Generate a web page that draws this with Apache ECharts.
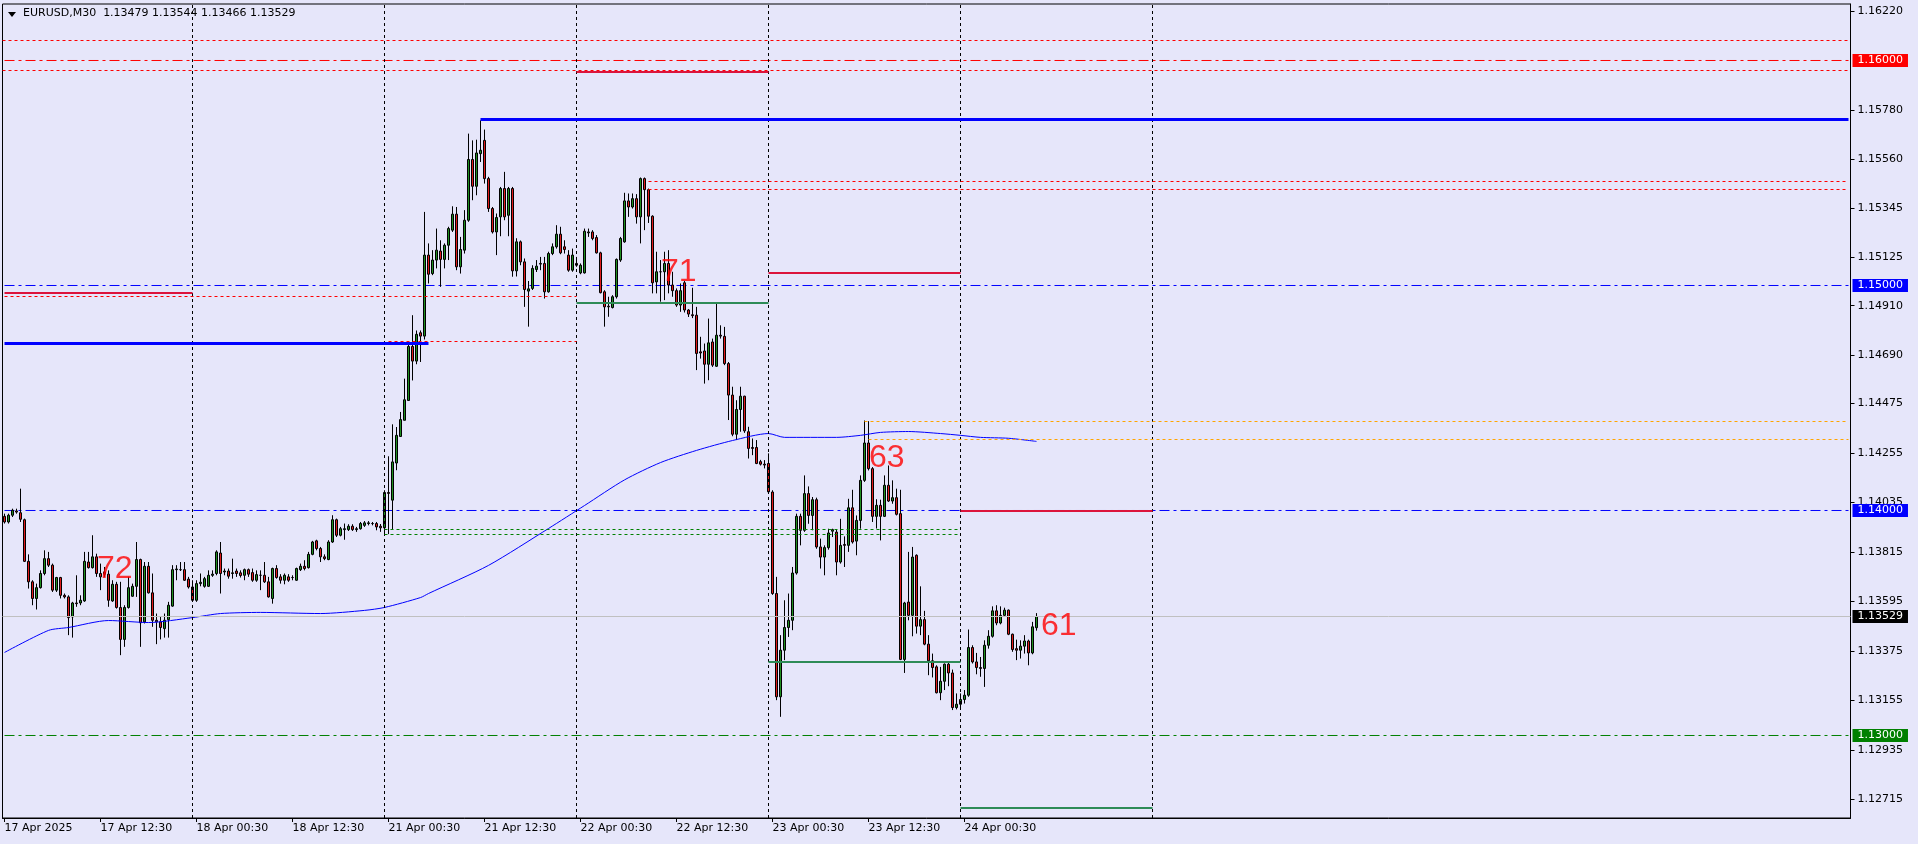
<!DOCTYPE html>
<html>
<head>
<meta charset="utf-8">
<script src="https://cdn.jsdelivr.net/npm/echarts@6/dist/echarts.min.js"></script>
<style>html,body{margin:0;padding:0;background:#E6E6FA;}#c{width:1918px;height:844px;}</style>
</head>
<body>
<div id="c"></div>
<script>
// ---------- data ----------
const tradingDays = ['17 Apr','18 Apr','21 Apr','22 Apr','23 Apr','24 Apr','25 Apr','28 Apr','29 Apr','30 Apr'];
const xTickIdx = [0,24,48,72,96,120,144,168,192,216,240];
const xTickLabels = ['17 Apr 2025','17 Apr 12:30','18 Apr 00:30','18 Apr 12:30','21 Apr 00:30','21 Apr 12:30','22 Apr 00:30','22 Apr 12:30','23 Apr 00:30','23 Apr 12:30','24 Apr 00:30'];
const yTickValues = [1.16220,1.15780,1.15560,1.15345,1.15125,1.14910,1.14690,1.14475,1.14255,1.14035,1.13815,1.13595,1.13375,1.13155,1.12935,1.12715];

const open = [
1.13974,1.13949,1.13979,1.13998,1.13990,1.13959,1.13774,1.13683,1.13609,1.13657,
1.13720,1.13786,1.13757,1.13646,1.13702,1.13623,1.13616,1.13527,1.13589,1.13589,
1.13598,1.13771,1.13746,1.13794,1.13720,1.13727,1.13717,1.13598,1.13672,1.13569,
1.13427,1.13569,1.13619,1.13663,1.13782,1.13505,1.13752,1.13634,1.13512,1.13505,
1.13475,1.13515,1.13575,1.13737,1.13737,1.13737,1.13695,
1.13660,1.13601,1.13675,1.13663,1.13663,1.13712,1.13720,1.13811,1.13727,1.13731,
1.13720,1.13731,1.13723,1.13712,1.13737,1.13724,1.13690,1.13712,1.13712,1.13683,
1.13609,1.13742,1.13705,1.13690,1.13705,1.13702,1.13690,1.13737,1.13752,1.13746,
1.13805,1.13865,1.13831,1.13794,1.13782,1.13860,1.13959,1.13890,1.13915,1.13915,
1.13930,1.13915,1.13919,1.13934,1.13942,1.13942,1.13942,1.13930,
1.13923,1.14080,1.14046,1.14211,1.14329,1.14401,1.14489,1.14729,1.14664,1.14790,
1.14775,1.15135,1.15053,1.15113,1.15153,1.15116,1.15179,1.15246,1.15317,1.15083,
1.15157,1.15290,1.15560,1.15441,1.15586,1.15645,1.15475,1.15342,1.15238,1.15305,
1.15431,1.15312,1.15431,1.15065,1.15194,1.15105,1.14975,1.14987,1.15071,1.15098,
1.15098,1.14972,1.15142,1.15172,1.15228,1.15172,1.15135,1.15068,
1.15098,1.15056,1.15056,1.15234,1.15238,1.15213,1.15145,1.14972,1.14908,1.14902,
1.14950,1.15113,1.15194,1.15376,1.15349,1.15386,1.15305,1.15475,1.15426,1.15308,
1.15016,1.15061,1.15061,1.15098,1.15002,1.14977,1.14913,1.15012,1.14891,1.14870,
1.14868,1.14705,1.14709,1.14650,1.14749,1.14641,1.14779,1.14774,1.14653,1.14513,
1.14339,1.14449,1.14508,1.14350,1.14280,1.14280,1.14217,1.14206,
1.14209,1.14082,1.13631,1.13172,1.13379,1.13480,1.13512,1.13722,1.13974,1.13912,
1.14075,1.13978,1.14048,1.13838,1.13793,1.13835,1.13908,1.13904,1.13771,1.13849,
1.13845,1.14012,1.13864,1.13956,1.14134,1.14300,1.14186,1.13974,1.14023,1.13974,
1.14112,1.14042,1.14057,1.13986,1.13338,1.13593,1.13534,1.13801,1.13486,1.13515,
1.13406,1.13332,1.13305,1.13190,1.13241,1.13317,1.13278,1.13124,
1.13139,1.13160,1.13179,1.13391,1.13327,1.13302,1.13298,1.13401,1.13441,1.13554,
1.13500,1.13534,1.13557,1.13450,1.13386,1.13379,1.13397,1.13420,1.13367,1.13479
];
const high = [
1.13986,1.13986,1.14008,1.14008,1.14097,1.13964,1.13805,1.13690,1.13675,1.13734,
1.13823,1.13816,1.13764,1.13705,1.13705,1.13631,1.13623,1.13594,1.13712,1.13623,
1.13816,1.13816,1.13890,1.13808,1.13764,1.13749,1.13734,1.13690,1.13683,1.13683,
1.13579,1.13705,1.13675,1.13860,1.13786,1.13771,1.13771,1.13720,1.13542,1.13527,
1.13542,1.13594,1.13757,1.13757,1.13771,1.13771,1.13705,
1.13690,1.13690,1.13720,1.13705,1.13734,1.13734,1.13823,1.13860,1.13742,1.13742,
1.13786,1.13742,1.13734,1.13742,1.13742,1.13742,1.13734,1.13734,1.13771,1.13705,
1.13746,1.13757,1.13717,1.13720,1.13717,1.13712,1.13746,1.13764,1.13779,1.13816,
1.13865,1.13870,1.13838,1.13805,1.13868,1.13979,1.13964,1.13927,1.13942,1.13939,
1.13939,1.13927,1.13949,1.13953,1.13953,1.13949,1.13949,1.13940,
1.14090,1.14241,1.14383,1.14371,1.14438,1.14586,1.14741,1.14868,1.14800,1.14800,
1.15327,1.15187,1.15157,1.15253,1.15201,1.15187,1.15261,1.15352,1.15349,1.15216,
1.15335,1.15675,1.15645,1.15648,1.15734,1.15693,1.15483,1.15349,1.15320,1.15438,
1.15505,1.15438,1.15438,1.15210,1.15200,1.15120,1.15020,1.15090,1.15113,1.15127,
1.15127,1.15150,1.15187,1.15268,1.15261,1.15201,1.15157,1.15164,
1.15127,1.15098,1.15253,1.15253,1.15246,1.15224,1.15150,1.14979,1.14950,1.14957,
1.15120,1.15216,1.15412,1.15409,1.15409,1.15406,1.15480,1.15480,1.15431,1.15312,
1.15150,1.15113,1.15150,1.15157,1.15061,1.14987,1.15009,1.15020,1.14895,1.14990,
1.14905,1.14772,1.14742,1.14853,1.14764,1.14920,1.14823,1.14816,1.14660,1.14550,
1.14490,1.14550,1.14510,1.14372,1.14320,1.14313,1.14225,1.14224,
1.14254,1.14090,1.13705,1.13446,1.13601,1.13631,1.13749,1.13986,1.13986,1.14156,
1.14107,1.14060,1.14057,1.13875,1.13845,1.13919,1.13919,1.13915,1.13963,1.13885,
1.14052,1.14092,1.13978,1.14156,1.14400,1.14397,1.14193,1.14050,1.14048,1.14156,
1.14200,1.14134,1.14097,1.14092,1.13594,1.13816,1.13838,1.13805,1.13663,1.13554,
1.13446,1.13364,1.13312,1.13305,1.13320,1.13327,1.13293,1.13187,
1.13187,1.13202,1.13471,1.13401,1.13367,1.13349,1.13423,1.13468,1.13574,1.13579,
1.13574,1.13568,1.13560,1.13453,1.13426,1.13423,1.13446,1.13426,1.13505,1.13544
];
const low = [
1.13942,1.13942,1.13971,1.13986,1.13949,1.13771,1.13653,1.13579,1.13560,1.13653,
1.13712,1.13749,1.13638,1.13638,1.13609,1.13609,1.13446,1.13435,1.13572,1.13579,
1.13594,1.13742,1.13742,1.13705,1.13646,1.13705,1.13572,1.13594,1.13564,1.13357,
1.13394,1.13564,1.13616,1.13616,1.13394,1.13498,1.13631,1.13483,1.13406,1.13427,
1.13435,1.13435,1.13572,1.13690,1.13731,1.13687,1.13653,
1.13594,1.13594,1.13663,1.13657,1.13660,1.13705,1.13712,1.13631,1.13712,1.13697,
1.13697,1.13705,1.13702,1.13690,1.13705,1.13683,1.13683,1.13646,1.13678,1.13613,
1.13586,1.13697,1.13675,1.13672,1.13683,1.13690,1.13687,1.13731,1.13734,1.13742,
1.13801,1.13823,1.13771,1.13779,1.13779,1.13856,1.13882,1.13885,1.13870,1.13909,
1.13909,1.13905,1.13915,1.13927,1.13934,1.13934,1.13912,1.13905,
1.13895,1.13895,1.13915,1.14179,1.14329,1.14401,1.14489,1.14578,1.14650,1.14660,
1.14760,1.15009,1.15046,1.15076,1.14994,1.15076,1.15113,1.15238,1.15068,1.15053,
1.15142,1.15283,1.15379,1.15401,1.15549,1.15453,1.15327,1.15231,1.15135,1.15219,
1.15290,1.15219,1.15039,1.15040,1.15090,1.14905,1.14817,1.14980,1.15060,1.15068,
1.14942,1.14968,1.15135,1.15164,1.15139,1.15142,1.15061,1.15061,
1.15083,1.15050,1.15053,1.15216,1.15201,1.15142,1.14965,1.14817,1.14861,1.14898,
1.14942,1.15105,1.15190,1.15305,1.15342,1.15275,1.15187,1.15246,1.15278,1.14965,
1.14965,1.14928,1.14935,1.14965,1.14950,1.14905,1.14883,1.14880,1.14860,1.14855,
1.14624,1.14675,1.14564,1.14579,1.14638,1.14638,1.14764,1.14646,1.14402,1.14330,
1.14313,1.14350,1.14345,1.14231,1.14246,1.14206,1.14200,1.14187,
1.14076,1.13625,1.13157,1.13083,1.13335,1.13438,1.13468,1.13715,1.13845,1.13905,
1.13941,1.13912,1.13830,1.13742,1.13712,1.13826,1.13882,1.13712,1.13764,1.13749,
1.13816,1.13853,1.13801,1.13919,1.14127,1.14178,1.13949,1.13920,1.13867,1.13971,
1.14038,1.14030,1.13978,1.13335,1.13278,1.13512,1.13441,1.13453,1.13446,1.13401,
1.13268,1.13258,1.13187,1.13157,1.13202,1.13219,1.13113,1.13116,
1.13116,1.13142,1.13172,1.13320,1.13272,1.13261,1.13216,1.13386,1.13435,1.13490,
1.13494,1.13530,1.13446,1.13372,1.13335,1.13342,1.13364,1.13312,1.13361,1.13466
];
const close = [
1.13949,1.13979,1.14001,1.13993,1.13961,1.13774,1.13683,1.13609,1.13657,1.13720,
1.13786,1.13757,1.13646,1.13702,1.13623,1.13616,1.13524,1.13589,1.13586,1.13601,
1.13774,1.13746,1.13794,1.13720,1.13705,1.13717,1.13601,1.13672,1.13569,1.13427,
1.13569,1.13657,1.13663,1.13782,1.13501,1.13752,1.13634,1.13512,1.13505,1.13480,
1.13512,1.13579,1.13737,1.13740,1.13737,1.13690,1.13660,
1.13601,1.13675,1.13681,1.13697,1.13712,1.13717,1.13816,1.13720,1.13731,1.13708,
1.13723,1.13720,1.13711,1.13737,1.13717,1.13690,1.13715,1.13712,1.13683,1.13616,
1.13742,1.13702,1.13690,1.13712,1.13690,1.13702,1.13742,1.13752,1.13742,1.13805,
1.13860,1.13831,1.13794,1.13786,1.13860,1.13959,1.13890,1.13919,1.13919,1.13930,
1.13915,1.13919,1.13942,1.13945,1.13945,1.13942,1.13927,1.13923,
1.14080,1.14076,1.14216,1.14334,1.14404,1.14492,1.14729,1.14664,1.14783,1.14775,
1.15135,1.15050,1.15113,1.15157,1.15116,1.15179,1.15253,1.15317,1.15083,1.15160,
1.15290,1.15560,1.15441,1.15589,1.15601,1.15475,1.15342,1.15238,1.15302,1.15431,
1.15305,1.15431,1.15065,1.15194,1.15105,1.14982,1.14985,1.15076,1.15086,1.15095,
1.14972,1.15142,1.15172,1.15228,1.15145,1.15160,1.15068,1.15135,
1.15090,1.15090,1.15241,1.15238,1.15209,1.15145,1.14968,1.14905,1.14905,1.14950,
1.15116,1.15209,1.15376,1.15349,1.15386,1.15305,1.15475,1.15426,1.15308,1.15012,
1.15061,1.15061,1.15098,1.15002,1.14977,1.14913,1.14977,1.14891,1.14873,1.14866,
1.14698,1.14700,1.14650,1.14745,1.14646,1.14779,1.14775,1.14653,1.14513,1.14339,
1.14449,1.14508,1.14354,1.14276,1.14276,1.14209,1.14206,1.14202,
1.14083,1.13631,1.13172,1.13379,1.13480,1.13512,1.13722,1.13974,1.13912,1.14075,
1.13978,1.14048,1.13838,1.13793,1.13835,1.13900,1.13915,1.13771,1.13845,1.13845,
1.14012,1.13860,1.13956,1.14134,1.14300,1.14186,1.13974,1.14023,1.13974,1.14112,
1.14042,1.14057,1.13983,1.13338,1.13589,1.13534,1.13793,1.13486,1.13515,1.13406,
1.13332,1.13302,1.13190,1.13241,1.13317,1.13278,1.13124,1.13139,
1.13160,1.13179,1.13391,1.13327,1.13302,1.13298,1.13401,1.13441,1.13554,1.13500,
1.13534,1.13557,1.13450,1.13382,1.13379,1.13397,1.13420,1.13367,1.13483,1.13529
];

// moving average (read at selected bars)
const maIdx = [0,11,16,26,36,47,54,64,79,90,95,104,106,121,136,145,155,164,173,182,191,195,208,214,219,226,234,239,244,251,258];
const maVal = [1.13369,1.13467,1.13480,1.13511,1.13502,1.13524,1.13542,1.13547,1.13542,1.13556,1.13569,1.13613,1.13631,1.13756,1.13920,1.14022,1.14136,1.14213,1.14267,1.14311,1.14342,1.14325,1.14325,1.14334,1.14347,1.14351,1.14342,1.14334,1.14325,1.14321,1.14307];

// horizontal levels
const roundLevels = [1.16000, 1.15000, 1.14000, 1.13000];
const redDottedFull = [1.16089, 1.15956];
const currentPrice = 1.13529;
// segments: [startBar, endBar, price]
const redSolidSegs = [[143,191,1.15952],[191,239,1.15058],[0,47,1.14966],[239,287,1.13999]];
const blueThickSegs = [[119,461,1.15738],[0,106,1.14742]];
const redDottedSegs = [[161,461,1.15462],[161,461,1.15427],[0,143,1.14951],[96,143,1.14751]];
const greenSolidSegs = [[143,191,1.14922],[191,239,1.13326],[239,287,1.12679]];
const greenDottedSegs = [[95,239,1.13916],[95,239,1.13893]];
const orangeDottedSegs = [[215,461,1.14396],[216,461,1.14316]];
const daySeparators = [47,95,143,191,239,287];
// text marks: [bar, price, text]
const textMarks = [[23,1.13738,'72'],[164,1.15058,'71'],[216,1.14231,'63'],[259,1.13487,'61']];

const headerText = 'EURUSD,M30  1.13479 1.13544 1.13466 1.13529';

// ---------- build ----------
const categories = [];
for (const d of tradingDays) {
  for (let h = 0; h < 48; h++) {
    const hh = String(Math.floor(h / 2)).padStart(2, '0');
    categories.push(d + ' ' + hh + ':' + (h % 2 ? '30' : '00'));
  }
}
categories.shift();
categories.length = 462;
const lastIdx = categories.length - 1;

const candleData = open.map((o, i) => [o, close[i], low[i], high[i]]);
const maData = maIdx.map((k, i) => [k, maVal[i]]);

const FONT = 'DejaVu Sans';
const st = {
  redDot: {color:'#ff0000', width:1, type:[3,3]},
  redSolid: {color:'#dc143c', width:2, type:'solid'},
  blueThick: {color:'#0000ff', width:3, type:'solid'},
  greenSolid: {color:'#2e8b57', width:2, type:'solid'},
  greenDot: {color:'#008000', width:1, type:[3,3]},
  orangeDot: {color:'#ffa500', width:1, type:[3,3]},
  gray: {color:'#c0c0c0', width:1, type:'solid'},
  sep: {color:'#000000', width:1, type:[3,3]}
};
const roundColors = ['#ff0000', '#0000ff', '#0000ff', '#008000'];

function boxLabel(text, bg) {
  return {show:true, position:'end', distance:2, formatter:text, color:'#ffffff', backgroundColor:bg,
    padding:[1,5,1,5], fontSize:11, lineHeight:11, fontFamily:FONT};
}
const ml = [];
daySeparators.forEach(k => ml.push({xAxis:k, lineStyle:Object.assign({}, st.sep), label:{show:false}}));
redDottedFull.forEach(p => ml.push({yAxis:p, lineStyle:Object.assign({}, st.redDot), label:{show:false}}));
ml.push({yAxis:currentPrice, lineStyle:Object.assign({}, st.gray), label:boxLabel(currentPrice.toFixed(5), '#000000')});
function addSegs(list, style) {
  list.forEach(s => ml.push([{coord:[s[0], s[2]], lineStyle:Object.assign({}, style), label:{show:false}}, {coord:[s[1], s[2]]}]));
}
addSegs(redDottedSegs, st.redDot);
addSegs(orangeDottedSegs, st.orangeDot);
addSegs(greenDottedSegs, st.greenDot);
addSegs(redSolidSegs, st.redSolid);
addSegs(greenSolidSegs, st.greenSolid);
addSegs(blueThickSegs, st.blueThick);
// price boxes for round levels (label only)
roundLevels.forEach((p, i) => ml.push({yAxis:p, lineStyle:{color:'rgba(0,0,0,0)', width:1, type:'solid'}, label:boxLabel(p.toFixed(5), roundColors[i])}));

// round-number level lines as their own line series
const levelSeries = roundLevels.map((p, i) => ({
  type:'line', data:[[0, p], [lastIdx, p]], symbol:'none', showSymbol:false, silent:true, z:2,
  lineStyle:{color:roundColors[i], width:1, type:[10,4,3,4]}, itemStyle:{color:roundColors[i]},
  emphasis:{disabled:true}
}));

const chart = echarts.init(document.getElementById('c'), null, {renderer:'canvas'});
chart.setOption({
  animation:false,
  backgroundColor:'#E6E6FA',
  title:{text:headerText, left:23, top:8, padding:0,
    textStyle:{fontSize:11, fontWeight:'normal', color:'#000', fontFamily:FONT}},
  graphic:[{type:'polygon', shape:{points:[[8,12],[16,12],[12,17]]}, style:{fill:'#000'}}],
  grid:{left:2.5, right:67.5, top:4, bottom:26, show:true, borderColor:'#000', borderWidth:1, backgroundColor:'#E6E6FA'},
  xAxis:{
    type:'category', data:categories, boundaryGap:true,
    axisLine:{show:true, lineStyle:{color:'#000', width:1}},
    axisTick:{show:true, alignWithLabel:true, length:4, lineStyle:{color:'#000'},
      interval:(i) => xTickIdx.includes(i)},
    axisLabel:{show:true, align:'left', margin:5, color:'#000', fontSize:11, fontFamily:FONT,
      interval:(i) => xTickIdx.includes(i),
      formatter:(v, i) => { const k = xTickIdx.indexOf(i); return k >= 0 ? xTickLabels[k] : ''; }},
    splitLine:{show:false}
  },
  yAxis:{
    type:'value', position:'right', min:1.126333, max:1.162511, scale:true,
    axisLine:{show:true, lineStyle:{color:'#000', width:1}},
    axisTick:{show:true, length:4, lineStyle:{color:'#000'}, customValues:yTickValues},
    axisLabel:{show:true, margin:7, color:'#000', fontSize:11, fontFamily:FONT,
      customValues:yTickValues, formatter:(v) => v.toFixed(5)},
    splitLine:{show:false}
  },
  series:[
    ...levelSeries,
    {
      type:'candlestick', data:candleData, barWidth:3,
      itemStyle:{color:'#1f8f1f', color0:'#e01b1b', borderColor:'#000', borderColor0:'#000', borderColorDoji:'#000', borderWidth:1},
      emphasis:{disabled:true}, silent:true
    },
    {
      type:'line', data:maData, showSymbol:false, symbol:'none', smooth:0.25,
      lineStyle:{color:'#0000ff', width:1}, silent:true, z:3,
      markLine:{silent:true, precision:5, symbol:['none','none'], animation:false, label:{show:false}, emphasis:{disabled:true}, data:ml}
    },
    {
      type:'scatter', data:textMarks.map(t => ({value:[t[0], t[1]], name:t[2]})),
      symbolSize:1, itemStyle:{color:'rgba(0,0,0,0)'}, silent:true, z:6,
      label:{show:true, position:'right', distance:0, formatter:(p) => p.name,
        color:'#ff0000', fontSize:32, fontFamily:'Liberation Sans'}
    }
  ]
});
</script>
</body>
</html>
